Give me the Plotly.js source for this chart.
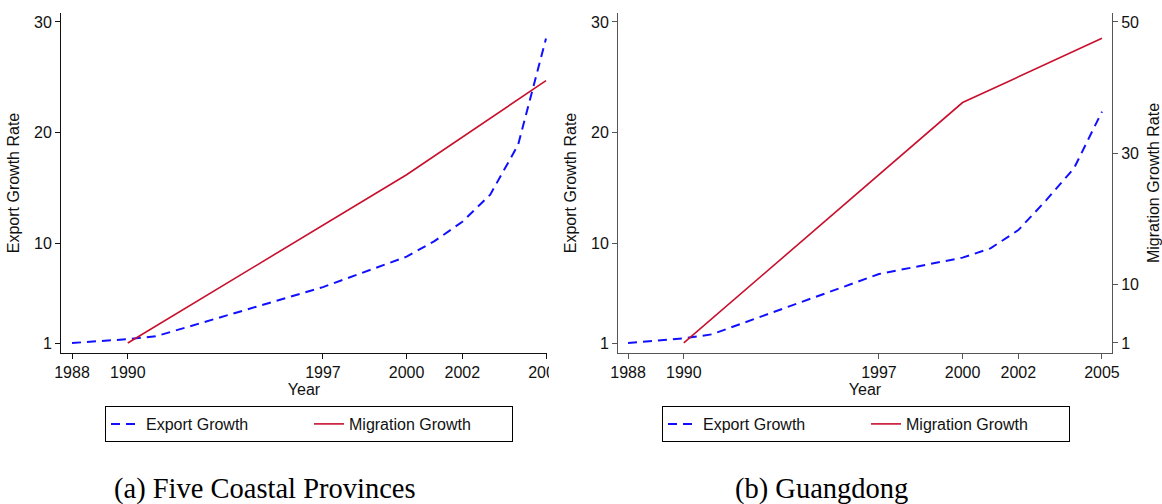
<!DOCTYPE html>
<html>
<head>
<meta charset="utf-8">
<script src="https://cdn.plot.ly/plotly-3.0.1.min.js"></script>
<style>html,body{margin:0;padding:0;background:#fff;}#chart{width:1162px;height:504px;}</style>
</head>
<body>
<div id="chart"></div>
<script>
// ---- data ----
const exportYears = [1988, 1990, 1991, 1997, 2000, 2001, 2002, 2003, 2004, 2005];
const migrationYears = [1990, 2000, 2005];
const exportCoastal = [1.0, 1.35, 1.6, 6.05, 8.8, 10.2, 11.95, 14.4, 18.9, 28.5];
const migrationCoastal = [1.0, 16.2, 24.7];
const exportGuangdong = [1.0, 1.42, 1.78, 7.23, 8.71, 9.55, 11.2, 13.9, 16.8, 21.9];
const migrationGuangdong = [1.0, 37.7, 47.5];
const yearTicks = [1988, 1990, 1997, 2000, 2002, 2005];
const exportTicks = [1, 10, 20, 30];
const migrationTicks = [1, 10, 30, 50];
const seriesNames = ['Export Growth', 'Migration Growth'];
const captions = ['(a) Five Coastal Provinces', '(b) Guangdong'];

const BLUE = '#1010FF';
const RED = '#C8102E';
const FONT = {family: 'Liberation Sans, Arial, sans-serif', size: 16, color: '#111'};

const W = 1162, H = 504;
const px = v => v / W;
const py = v => (H - v) / H;

const traces = [
  {x: exportYears, y: exportCoastal, name: seriesNames[0], mode: 'lines', type: 'scatter',
   line: {color: BLUE, width: 2, dash: '9px,6px'}, xaxis: 'x', yaxis: 'y', legend: 'legend'},
  {x: migrationYears, y: migrationCoastal, name: seriesNames[1], mode: 'lines', type: 'scatter',
   line: {color: RED, width: 1.6}, xaxis: 'x', yaxis: 'y', legend: 'legend'},
  {x: exportYears, y: exportGuangdong, name: seriesNames[0], mode: 'lines', type: 'scatter',
   line: {color: BLUE, width: 2, dash: '9px,6px'}, xaxis: 'x2', yaxis: 'y2', legend: 'legend2'},
  {x: migrationYears, y: migrationGuangdong, name: seriesNames[1], mode: 'lines', type: 'scatter',
   line: {color: RED, width: 1.6}, xaxis: 'x2', yaxis: 'y3', legend: 'legend2'}
];

const xCommon = {
  tickmode: 'array', tickvals: yearTicks, ticks: 'outside', ticklen: 5, tickwidth: 1,
  showline: true, linewidth: 1, showgrid: false, zeroline: false,
  tickfont: FONT, title: {text: 'Year', font: FONT, standoff: 0}
};
const yCommon = {
  tickmode: 'array', tickvals: exportTicks, ticks: 'outside', ticklen: 5, tickwidth: 1,
  showline: true, linewidth: 1, showgrid: false, zeroline: false,
  tickfont: FONT, title: {text: 'Export Growth Rate', font: FONT},
  domain: [py(353), py(13)], range: [0.097, 30.81]
};

const legendCommon = {
  orientation: 'h', xanchor: 'left', yanchor: 'top', bordercolor: '#000', borderwidth: 1,
  font: FONT, entrywidth: 158, bgcolor: '#fff', traceorder: 'normal'
};

const layout = {
  width: W, height: H,
  margin: {l: 0, r: 0, t: 0, b: 0},
  paper_bgcolor: '#fff', plot_bgcolor: '#fff',
  font: FONT,
  showlegend: true,
  xaxis: Object.assign({}, xCommon, {domain: [px(61), px(547)], range: [1987.605, 2005.036],
    anchor: 'y', linecolor: '#111', tickcolor: '#111'}),
  yaxis: Object.assign({}, yCommon, {anchor: 'x', linecolor: '#111', tickcolor: '#111'}),
  xaxis2: Object.assign({}, xCommon, {domain: [px(618), px(1112)], range: [1987.64, 2005.36],
    anchor: 'y2', linecolor: '#555', tickcolor: '#555'}),
  yaxis2: Object.assign({}, yCommon, {anchor: 'x2', linecolor: '#555', tickcolor: '#555'}),
  yaxis3: {
    tickmode: 'array', tickvals: migrationTicks, ticks: 'outside', ticklen: 5, tickwidth: 1,
    showline: true, linewidth: 1, linecolor: '#555', tickcolor: '#555', showgrid: false, zeroline: false,
    tickfont: FONT, title: {text: 'Migration Growth Rate', font: FONT},
    overlaying: 'y2', side: 'right', anchor: 'x2', range: [-0.53, 51.37]
  },
  legend: Object.assign({}, legendCommon, {x: px(105), y: py(406)}),
  legend2: Object.assign({}, legendCommon, {x: px(662), y: py(406)}),
  annotations: [
    {text: captions[0], xref: 'paper', yref: 'paper', x: px(265), y: py(489), xanchor: 'center', yanchor: 'middle',
     showarrow: false, font: {family: 'Liberation Serif, Times New Roman, serif', size: 28.5, color: '#000'}},
    {text: captions[1], xref: 'paper', yref: 'paper', x: px(821), y: py(489), xanchor: 'center', yanchor: 'middle',
     showarrow: false, font: {family: 'Liberation Serif, Times New Roman, serif', size: 28.5, color: '#000'}}
  ],
  shapes: [
    {type: 'rect', xref: 'paper', yref: 'paper', layer: 'above',
     x0: px(549), x1: px(570), y0: py(380), y1: py(355), fillcolor: '#fff', line: {width: 0}}
  ]
};

Plotly.newPlot('chart', traces, layout, {displayModeBar: false, staticPlot: true});
</script>
</body>
</html>
